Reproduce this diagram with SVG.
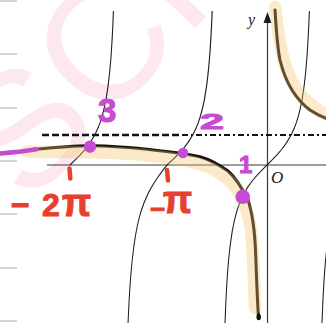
<svg xmlns="http://www.w3.org/2000/svg" xmlns:xlink="http://www.w3.org/1999/xlink" width="326" height="323" viewBox="0 0 326 323">
<style>
.tick{stroke:#a8a8a8;stroke-width:1}
.axis{stroke:#3a3a3a;stroke-width:1.2;fill:none}
.thin{stroke:#1e1e1e;stroke-width:1.1;fill:none;vector-effect:non-scaling-stroke}
.bold{stroke:#141414;stroke-width:3;fill:none;stroke-linecap:round;stroke-linejoin:round}
.band{stroke:#f0c060;stroke-opacity:0.34;stroke-width:12.5;fill:none;stroke-linecap:round;stroke-linejoin:round}
.mag{fill:#c64bd3}
.magtxt{fill:#c64bd3;stroke:#c64bd3;stroke-width:1;font-family:"Liberation Sans",Arial,sans-serif;font-weight:bold}
.red{fill:#e6412f;stroke:#e6412f;stroke-width:1;font-family:"Liberation Sans",Arial,sans-serif;font-weight:bold}
.redtick{stroke:#e6412f;stroke-width:4.5;stroke-linecap:round}
.math{font-family:"Liberation Serif","Times New Roman",serif;font-style:italic;fill:#222}
</style>
<defs>
<path id="up" d="M0,0 L5,-4.8 L10,-9.9 L15,-15.5 L20,-22.1 L25,-30.5 L28,-36.9 L30,-42.1 L32,-48.3 L34,-56 L36,-65.7 L38,-78.6 L39,-86.7 L40,-96.5 L40.5,-102.2 L41,-108.5 L41.5,-115.6 L42,-123.7 L42.5,-132.7 L43,-143 L43.5,-155.7 L44,-165 L44.5,-187.5 L45,-208"/>
<clipPath id="plot"><rect x="0" y="11" width="326" height="320"/></clipPath>
</defs>
<rect width="326" height="323" fill="#ffffff"/>
<g id="watermark">
<text x="29" y="207" transform="rotate(-47 29 207)" font-family="Liberation Sans,Arial,sans-serif" font-size="165" fill="#fde8f1">SCI</text>
</g>
<g id="side-ticks">
<line class="tick" x1="0" y1="1" x2="17" y2="1"/>
<line class="tick" x1="0" y1="54" x2="17" y2="54"/>
<line class="tick" x1="0" y1="108" x2="17" y2="108"/>
<line class="tick" x1="0" y1="161" x2="17" y2="161"/>
<line class="tick" x1="0" y1="214" x2="17" y2="214"/>
<line class="tick" x1="0" y1="268" x2="17" y2="268"/>
<line class="tick" x1="0" y1="321" x2="17" y2="321"/>
</g>
<g id="axes">
<line class="axis" x1="47" y1="165" x2="326" y2="165"/>
<line class="axis" x1="267.5" y1="20" x2="267.5" y2="323"/>
<polygon points="267.5,12 263.5,23 271.5,23" fill="#1a1a1a"/>
<text class="math" x="248" y="25" font-size="16">y</text>
<text class="math" x="271" y="183" font-size="17">O</text>
</g>
<g id="asymptote">
<line x1="42" y1="135" x2="182" y2="135" stroke="#111" stroke-width="2.6" stroke-dasharray="7 3"/>
<line x1="182" y1="135" x2="326" y2="135" stroke="#111" stroke-width="2.2" stroke-dasharray="6 3 2 3"/>
</g>
<g id="tan-branches" clip-path="url(#plot)">
<use xlink:href="#up" class="thin" transform="translate(70,165)"/>
<use xlink:href="#up" class="thin" transform="translate(167,165) scale(1.04,1)"/>
<use xlink:href="#up" class="thin" transform="translate(167,165) scale(-0.924,-1.25)"/>
<use xlink:href="#up" class="thin" transform="translate(267,165) scale(0.975,1)"/>
<use xlink:href="#up" class="thin" transform="translate(267,165) scale(-0.963,-1)"/>
<use xlink:href="#up" class="thin" transform="translate(364,165) scale(-0.963,-1)"/>
</g>
<g id="bold-curve">
<path class="bold" d="M36,149.3 C55,147.5 75,146 90,145.8 C115,145.6 140,148.5 160,150.7 C175,152 185,153.5 200,156.7 C210,159.5 218,164 228,171 C236,178 242,188 248,200 C252,212 254.5,228 255.5,250 C256.5,275 257,295 258.5,318"/>
<ellipse cx="258.7" cy="317" rx="2.2" ry="3.2" fill="#111"/>
<path class="bold" d="M275,10 C276,25 277,45 280,60 C283,72 287,82 292,90 C297,98 303,105 310,110 C316,114 321,116.5 326,118.3"/>
</g>
<g id="highlight">
<path class="band" d="M27,151.5 C50,152 75,152 95,152.3 C130,153 160,156 185,160.5 C205,164 220,171 232,183 C242,195 248,210 251,230 C253.5,255 254,285 255,308"/>
<path class="band" d="M275,7 C278,30 280,50 286,68 C292,84 300,96 310,104 C316,109 321,113 332,117"/>
</g>
<g id="magenta">
<path d="M0,153.5 Q20,152 36.5,149.3" stroke="#c64bd3" stroke-width="4.5" stroke-linecap="round" fill="none"/>
<circle id="pt3" class="mag" cx="90" cy="146.7" r="6.2"/>
<circle id="pt2" class="mag" cx="183" cy="153" r="5.2"/>
<circle id="pt1" class="mag" cx="242.8" cy="196.8" r="7.3"/>
<text class="magtxt" x="98" y="121.5" font-size="33">3</text>
<text class="magtxt" x="200" y="129" font-size="22" textLength="24" lengthAdjust="spacingAndGlyphs">2</text>
<text class="magtxt" x="239" y="172.5" font-size="24">1</text>
</g>
<g id="red-labels">
<line class="redtick" x1="69.5" y1="168.5" x2="70.3" y2="178.5"/>
<line class="redtick" x1="167" y1="170" x2="168" y2="180.5"/>
<text class="red" x="11" y="216" font-size="32">−<tspan x="42">2</tspan><tspan x="62" font-size="38">π</tspan></text>
<text class="red" x="150" y="218" font-size="26">−<tspan x="163" y="213" font-size="38">π</tspan></text>
</g>
</svg>
